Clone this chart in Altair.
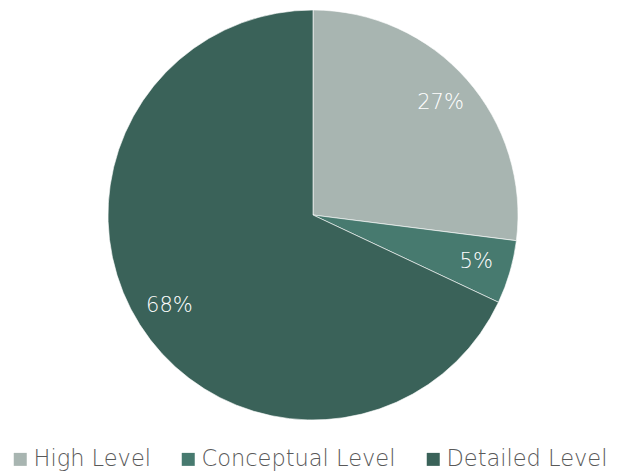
import altair as alt
import pandas as pd

categories = ["High Level", "Conceptual Level", "Detailed Level"]
values = [27, 5, 68]
labels = ["27%", "5%", "68%"]
colors = ["#a8b5b1", "#477a6f", "#3a6259"]

df = pd.DataFrame({"category": categories, "value": values, "label": labels,
                   "order": [0, 1, 2]})

FONT = "DejaVu Sans"
CX, CY = 305, 207

base = alt.Chart(df).encode(
    theta=alt.Theta("value:Q", stack=True),
    order=alt.Order("order:Q"),
    x=alt.value(CX),
    y=alt.value(CY),
)

pie = base.mark_arc(outerRadius=205, stroke="#ffffff", strokeWidth=0.6).encode(
    color=alt.Color(
        "category:N",
        scale=alt.Scale(domain=categories, range=colors),
        sort=categories,
        legend=alt.Legend(
            title=None,
            orient="none",
            direction="horizontal",
            legendX=1,
            legendY=440,
            symbolType="square",
            symbolSize=169,
            symbolStrokeWidth=0,
            labelFont=FONT,
            labelFontSize=22.5,
            labelColor="#595959",
            labelFontWeight=200,
            columnPadding=26,
            symbolOffset=0,
            labelOffset=2,
            labelLimit=0,
        ),
    )
)

text = base.mark_text(radius=170, font=FONT, fontSize=21, fontWeight=200,
                      color="#ffffff").encode(text="label:N")

chart = (pie + text).properties(
    width=605, height=464, padding=0, autosize=alt.AutoSizeParams(type="none")
).configure_view(stroke=None)

chart.save("out.html", embed_options={"renderer": "svg", "actions": False})
